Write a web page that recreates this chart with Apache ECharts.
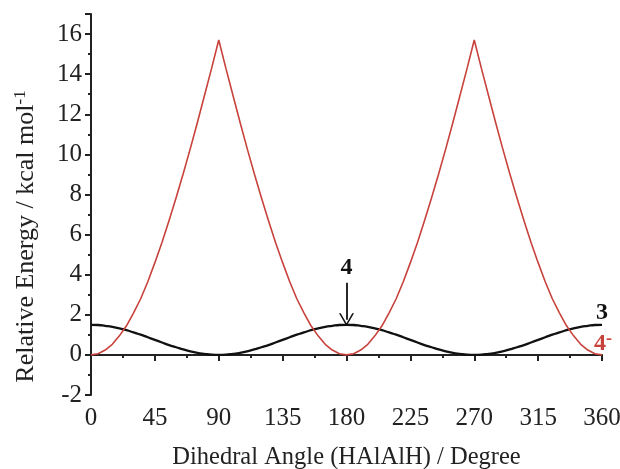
<!DOCTYPE html>
<html>
<head>
<meta charset="utf-8">
<script src="https://cdn.jsdelivr.net/npm/echarts@6/dist/echarts.min.js"></script>
<style>
  html, body { margin: 0; padding: 0; background: #fff; }
  #main { width: 620px; height: 469px; }
</style>
</head>
<body>
<div id="main"></div>
<script>
// dihedral angle, degrees (5 degree steps)
var angles = [
  0, 5, 10, 15, 20, 25, 30, 35, 40, 45, 50, 55, 60, 65, 70, 75, 80, 85, 90,
  95, 100, 105, 110, 115, 120, 125, 130, 135, 140, 145, 150, 155, 160, 165, 170, 175, 180,
  185, 190, 195, 200, 205, 210, 215, 220, 225, 230, 235, 240, 245, 250, 255, 260, 265, 270,
  275, 280, 285, 290, 295, 300, 305, 310, 315, 320, 325, 330, 335, 340, 345, 350, 355, 360
];
// compound 4- (red), kcal/mol
var energy4m = [
  0, 0.06, 0.24, 0.53, 0.95, 1.45, 2.1, 2.8, 3.65, 4.6, 5.6, 6.7, 7.85, 9.05, 10.3, 11.6, 12.95, 14.3, 15.7,
  14.3, 12.95, 11.6, 10.3, 9.05, 7.85, 6.7, 5.6, 4.6, 3.65, 2.8, 2.1, 1.45, 0.95, 0.53, 0.24, 0.06, 0,
  0.06, 0.24, 0.53, 0.95, 1.45, 2.1, 2.8, 3.65, 4.6, 5.6, 6.7, 7.85, 9.05, 10.3, 11.6, 12.95, 14.3, 15.7,
  14.3, 12.95, 11.6, 10.3, 9.05, 7.85, 6.7, 5.6, 4.6, 3.65, 2.8, 2.1, 1.45, 0.95, 0.53, 0.24, 0.06, 0
];
// compound 3 (black), kcal/mol
var energy3 = [
  1.5, 1.49, 1.45, 1.4, 1.32, 1.23, 1.12, 1.01, 0.88, 0.75, 0.62, 0.49, 0.38, 0.27, 0.18, 0.1, 0.05, 0.01, 0,
  0.01, 0.05, 0.1, 0.18, 0.27, 0.38, 0.49, 0.62, 0.75, 0.88, 1.01, 1.12, 1.23, 1.32, 1.4, 1.45, 1.49, 1.5,
  1.49, 1.45, 1.4, 1.32, 1.23, 1.12, 1.01, 0.88, 0.75, 0.62, 0.49, 0.38, 0.27, 0.18, 0.1, 0.05, 0.01, 0,
  0.01, 0.05, 0.1, 0.18, 0.27, 0.38, 0.49, 0.62, 0.75, 0.88, 1.01, 1.12, 1.23, 1.32, 1.4, 1.45, 1.49, 1.5
];

var FONT = '"Liberation Serif", "DejaVu Serif", serif';
var RED = '#c8423c';

function pairs(xs, ys) {
  return xs.map(function (x, i) { return [x, ys[i]]; });
}

var chart = echarts.init(document.getElementById('main'));

chart.setOption({
  animation: false,
  backgroundColor: '#fff',
  grid: { left: 91, right: 18, top: 14, bottom: 74, outerBoundsMode: 'none' },
  xAxis: {
    type: 'value',
    min: 0, max: 360, interval: 45,
    name: 'Dihedral Angle (HAlAlH) / Degree',
    nameLocation: 'middle',
    nameGap: 50,
    nameTextStyle: { fontFamily: FONT, fontSize: 24.5, color: '#222' },
    axisLine: { lineStyle: { color: '#222', width: 2 } },
    axisTick: { length: 6, lineStyle: { color: '#222', width: 2 } },
    minorTick: { show: true, splitNumber: 2, length: 3, lineStyle: { color: '#222', width: 2 } },
    axisLabel: { fontFamily: FONT, fontSize: 25, color: '#222', margin: 11 },
    splitLine: { show: false }
  },
  yAxis: [{
    type: 'value',
    min: -2, max: 17, interval: 2,
    name: 'Relative Energy / kcal mol{s|-1}',
    nameLocation: 'middle',
    nameGap: 50,
    nameTextStyle: {
      fontFamily: FONT, fontSize: 26, color: '#222',
      padding: [0, 64, 0, 0],
      rich: { s: { fontFamily: FONT, fontSize: 17, color: '#222', verticalAlign: 'top', padding: [0, 0, 12, 0] } }
    },
    axisLine: { show: true, lineStyle: { color: '#222', width: 2 } },
    axisTick: { length: 6, lineStyle: { color: '#222', width: 2 } },
    axisLabel: {
      fontFamily: FONT, fontSize: 25, color: '#222', margin: 9,
      formatter: function (v) { return v > 16 ? '' : String(v); }
    },
    splitLine: { show: false }
  }, {
    // minor ticks only
    type: 'value',
    position: 'left',
    min: -2, max: 17, interval: 1,
    axisLine: { show: false },
    axisTick: { show: true, length: 3, lineStyle: { color: '#222', width: 2 } },
    axisLabel: { show: false },
    splitLine: { show: false }
  }],
  series: [{
    type: 'line',
    name: '4-',
    data: pairs(angles, energy4m),
    showSymbol: false,
    lineStyle: { color: RED, width: 1.6 },
    z: 3
  }, {
    type: 'line',
    name: '3',
    data: pairs(angles, energy3),
    smooth: true,
    showSymbol: false,
    lineStyle: { color: '#111', width: 2.3 },
    z: 2,
    markLine: {
      silent: true,
      symbol: ['none', 'path://M0,12 L6,0 L12,12 L10.6,12 L6,2.8 L1.4,12 Z'],
      symbolSize: [15, 13],
      label: { show: false },
      lineStyle: { color: '#111', width: 1.8, type: 'solid' },
      data: [[{ coord: [180, 3.6] }, { coord: [180, 1.75] }]]
    }
  }]
});

// text annotations placed from data coordinates
function at(x, y) { return chart.convertToPixel({ gridIndex: 0 }, [x, y]); }
var p4 = at(180, 4.35);
var p3 = at(360, 2.1);
var p4m = at(360, 0.55);
chart.setOption({
  graphic: [
    { type: 'text', x: p4[0], y: p4[1], style: { text: '4', font: 'bold 24px ' + FONT, fill: '#111', align: 'center', verticalAlign: 'middle' } },
    { type: 'text', x: p3[0], y: p3[1], style: { text: '3', font: 'bold 24px ' + FONT, fill: '#111', align: 'center', verticalAlign: 'middle' } },
    { type: 'text', x: p4m[0] + 1, y: p4m[1], style: {
        text: '{a|4}{b|-}', align: 'center', verticalAlign: 'middle',
        rich: {
          a: { font: 'bold 24px ' + FONT, fill: RED },
          b: { font: 'bold 18px ' + FONT, fill: RED, verticalAlign: 'top', padding: [0, 0, 10, 0] }
        }
      } }
  ]
});
</script>
</body>
</html>
